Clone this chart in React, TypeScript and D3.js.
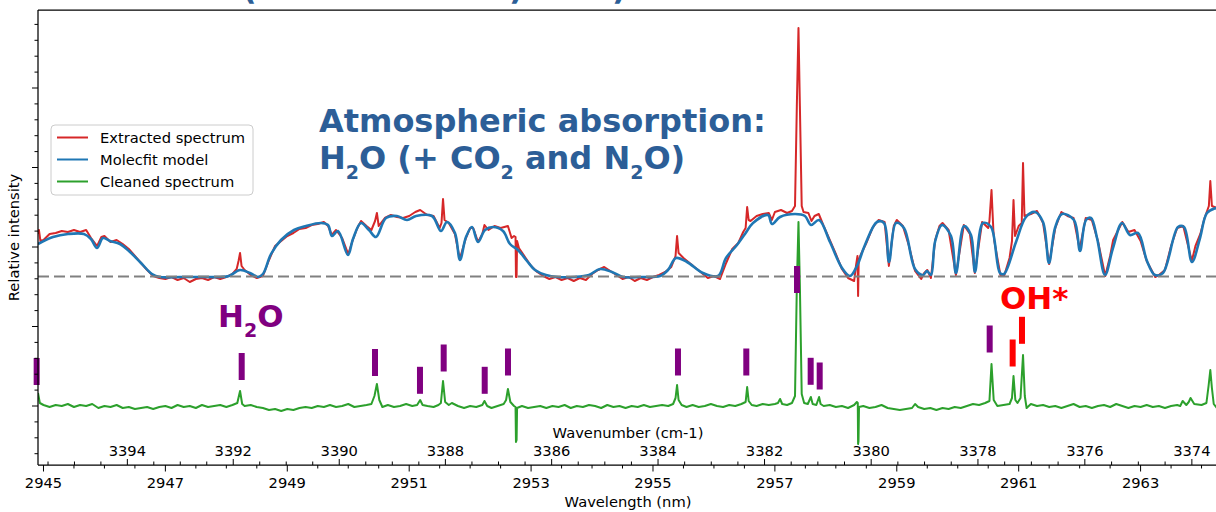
import React, { useEffect } from "react";
import * as d3 from "d3";

// ---------------- data ----------------
// intensity in arbitrary units, wavelength in nm
const modelSpectrum: [number, number][] = [
  [2944.91,162],[2945.156,169],[2945.402,172],[2945.664,172],[2945.779,167],[2945.878,158],[2945.976,168],[2946.091,165],[2946.255,162],[2946.419,154],[2946.6,143],[2946.78,132],[2946.911,129],[2947.24,129],[2947.568,129],[2947.896,129],[2948.044,130],[2948.224,136],[2948.388,133],[2948.519,129],[2948.601,132],[2948.733,152],[2948.897,166],[2949.11,176],[2949.307,180],[2949.553,183],[2949.668,181],[2949.733,170],[2949.832,175],[2949.996,151],[2950.078,167],[2950.209,183],[2950.34,176],[2950.455,169],[2950.619,188],[2950.8,190],[2950.964,186],[2951.112,190],[2951.374,190],[2951.522,175],[2951.62,184],[2951.751,173],[2951.833,146],[2951.932,169],[2952.03,179],[2952.129,164],[2952.244,176],[2952.375,179],[2952.539,175],[2952.654,162],[2952.785,156],[2952.933,145],[2953.064,136],[2953.244,131],[2953.441,129],[2953.72,129],[2953.95,131],[2954.131,137],[2954.327,134],[2954.508,129],[2954.787,129],[2955.115,130],[2955.246,136],[2955.377,148],[2955.558,144],[2955.82,133],[2956.067,130],[2956.198,148],[2956.378,161],[2956.509,172],[2956.641,183],[2956.887,191],[2956.952,182],[2957.084,189],[2957.33,192],[2957.494,190],[2957.592,181],[2957.724,186],[2957.904,164],[2958.101,138],[2958.232,130],[2958.347,140],[2958.478,161],[2958.675,184],[2958.79,183],[2958.872,144],[2958.987,183],[2959.118,178],[2959.299,137],[2959.43,131],[2959.496,135],[2959.561,131],[2959.627,164],[2959.742,181],[2959.889,170],[2959.971,133],[2960.103,180],[2960.217,171],[2960.283,134],[2960.414,183],[2960.546,179],[2960.693,133],[2960.759,132],[2960.956,164],[2961.12,189],[2961.267,194],[2961.399,184],[2961.497,143],[2961.596,178],[2961.71,192],[2961.907,186],[2962.006,155],[2962.104,186],[2962.186,188],[2962.285,168],[2962.416,131],[2962.547,158],[2962.695,183],[2962.826,171],[2962.957,173],[2963.105,145],[2963.236,131],[2963.367,133],[2963.614,179],[2963.712,179],[2963.843,144],[2963.975,168],[2964.089,193],[2964.237,198],[2964.3,199],
];

const extractedSpectrum: [number, number][] = [
  [2944.91,172],[2944.925,176],[2944.95,165],[2945.0,166],[2945.1,172],[2945.2,173],[2945.3,175],[2945.4,174],[2945.5,176],[2945.6,174],[2945.7,176],[2945.78,168],[2945.88,160],[2945.95,169],[2946.0,170],[2946.1,164],[2946.2,166],[2946.3,162],[2946.4,157],[2946.5,150],[2946.6,143],[2946.7,136],[2946.8,130],[2946.9,128],[2947.0,127],[2947.1,129],[2947.2,126],[2947.3,128],[2947.4,124],[2947.5,127],[2947.6,128],[2947.7,126],[2947.8,129],[2947.9,127],[2948.0,129],[2948.1,132],[2948.17,137],[2948.2,145],[2948.225,153],[2948.25,140],[2948.3,136],[2948.4,131],[2948.5,128],[2948.6,130],[2948.7,146],[2948.8,160],[2948.9,165],[2949.0,170],[2949.1,173],[2949.2,177],[2949.3,178],[2949.4,181],[2949.5,182],[2949.6,184],[2949.67,180],[2949.73,171],[2949.8,176],[2949.9,168],[2950.0,152],[2950.08,167],[2950.15,178],[2950.21,185],[2950.3,180],[2950.38,176],[2950.44,185],[2950.47,193],[2950.5,180],[2950.6,188],[2950.7,191],[2950.8,189],[2950.9,188],[2951.0,190],[2951.1,194],[2951.18,196],[2951.25,193],[2951.3,191],[2951.4,190],[2951.5,178],[2951.53,183],[2951.555,207],[2951.58,186],[2951.65,183],[2951.75,172],[2951.83,147],[2951.93,168],[2952.0,178],[2952.05,178],[2952.13,164],[2952.2,172],[2952.235,181],[2952.3,176],[2952.4,180],[2952.5,178],[2952.62,180],[2952.68,168],[2952.72,170],[2952.745,169],[2952.752,129],[2952.762,129],[2952.77,165],[2952.8,158],[2952.9,149],[2953.0,140],[2953.1,134],[2953.2,130],[2953.3,127],[2953.4,129],[2953.5,126],[2953.6,128],[2953.7,125],[2953.8,128],[2953.9,126],[2954.0,132],[2954.1,136],[2954.2,139],[2954.3,135],[2954.4,131],[2954.5,127],[2954.6,129],[2954.7,125],[2954.8,128],[2954.9,126],[2955.0,129],[2955.1,131],[2955.2,134],[2955.3,139],[2955.37,150],[2955.395,170],[2955.42,153],[2955.5,148],[2955.6,143],[2955.7,138],[2955.8,133],[2955.9,128],[2956.0,130],[2956.1,127],[2956.2,143],[2956.3,157],[2956.4,163],[2956.48,174],[2956.52,178],[2956.545,199],[2956.57,186],[2956.6,185],[2956.7,190],[2956.8,192],[2956.9,193],[2956.95,186],[2957.0,194],[2957.1,196],[2957.2,193],[2957.28,195],[2957.33,200],[2957.36,300],[2957.387,378],[2957.41,300],[2957.44,200],[2957.47,194],[2957.55,193],[2957.6,185],[2957.65,190],[2957.72,192],[2957.8,180],[2957.9,166],[2958.0,152],[2958.1,137],[2958.2,128],[2958.3,125],[2958.33,140],[2958.355,150],[2958.365,110],[2958.375,145],[2958.4,150],[2958.5,163],[2958.6,178],[2958.7,186],[2958.8,184],[2958.87,140],[2958.95,180],[2959.0,186],[2959.1,180],[2959.2,160],[2959.3,135],[2959.4,127],[2959.45,133],[2959.5,136],[2959.56,128],[2959.63,166],[2959.7,180],[2959.75,183],[2959.85,176],[2959.97,131],[2960.1,181],[2960.2,172],[2960.28,133],[2960.4,184],[2960.5,178],[2960.52,185],[2960.554,216],[2960.585,175],[2960.6,165],[2960.7,131],[2960.76,130],[2960.85,148],[2960.89,165],[2960.915,206],[2960.94,170],[2961.0,180],[2961.05,183],[2961.071,243],[2961.095,190],[2961.2,192],[2961.3,195],[2961.4,183],[2961.5,142],[2961.6,178],[2961.7,194],[2961.8,190],[2961.9,188],[2962.0,157],[2962.1,188],[2962.2,186],[2962.3,165],[2962.42,130],[2962.5,150],[2962.55,166],[2962.6,172],[2962.7,184],[2962.8,174],[2962.9,176],[2963.0,165],[2963.1,145],[2963.24,129],[2963.3,131],[2963.4,136],[2963.5,160],[2963.6,178],[2963.7,180],[2963.84,145],[2963.9,160],[2963.98,172],[2964.05,188],[2964.12,200],[2964.144,225],[2964.17,200],[2964.25,198],[2964.3,199],
];

const cleanedSpectrum: [number, number][] = [
  [2944.91,13],[2944.94,3],[2945.0,1],[2945.1,-1],[2945.2,1],[2945.3,0],[2945.4,2],[2945.5,-1],[2945.6,1],[2945.7,0],[2945.8,2],[2945.9,-2],[2946.0,0],[2946.1,-1],[2946.2,1],[2946.3,-2],[2946.4,-1],[2946.5,-3],[2946.6,-2],[2946.7,-1],[2946.8,-3],[2946.9,-1],[2947.0,0],[2947.1,-2],[2947.2,1],[2947.3,-1],[2947.4,0],[2947.5,-2],[2947.6,1],[2947.7,-1],[2947.8,0],[2947.9,1],[2948.0,-1],[2948.1,1],[2948.18,3],[2948.225,15],[2948.26,2],[2948.3,0],[2948.4,1],[2948.5,-1],[2948.6,-2],[2948.7,-4],[2948.8,-3],[2948.9,-5],[2949.0,-3],[2949.1,-4],[2949.2,-2],[2949.3,-1],[2949.4,-2],[2949.5,0],[2949.6,-1],[2949.7,1],[2949.8,-1],[2949.9,0],[2950.0,2],[2950.1,-1],[2950.2,0],[2950.3,1],[2950.38,2],[2950.43,10],[2950.47,22],[2950.51,6],[2950.56,-1],[2950.65,1],[2950.75,-1],[2950.85,0],[2950.95,2],[2951.05,0],[2951.13,1],[2951.18,6],[2951.22,1],[2951.3,0],[2951.4,-1],[2951.48,1],[2951.52,3],[2951.555,25],[2951.59,4],[2951.65,1],[2951.7,3],[2951.8,0],[2951.9,-2],[2952.0,0],[2952.1,-1],[2952.2,1],[2952.235,5],[2952.28,0],[2952.35,-2],[2952.45,0],[2952.55,2],[2952.59,6],[2952.62,17],[2952.66,4],[2952.72,0],[2952.745,-1],[2952.752,-36],[2952.762,-34],[2952.77,-2],[2952.85,0],[2952.95,-2],[2953.05,-1],[2953.15,0],[2953.25,-2],[2953.35,0],[2953.45,-1],[2953.55,1],[2953.65,-2],[2953.75,0],[2953.85,-1],[2953.95,1],[2954.05,0],[2954.15,-2],[2954.25,1],[2954.35,-1],[2954.45,0],[2954.55,-2],[2954.65,0],[2954.75,-1],[2954.85,1],[2954.95,-1],[2955.05,0],[2955.15,1],[2955.25,0],[2955.33,2],[2955.37,8],[2955.395,21],[2955.42,6],[2955.47,1],[2955.55,-1],[2955.65,1],[2955.75,-1],[2955.85,0],[2955.95,2],[2956.05,0],[2956.15,-1],[2956.25,1],[2956.35,0],[2956.45,2],[2956.52,4],[2956.545,19],[2956.57,5],[2956.62,1],[2956.7,0],[2956.8,2],[2956.9,1],[2957.0,2],[2957.05,3],[2957.085,7],[2957.12,2],[2957.2,1],[2957.28,3],[2957.33,10],[2957.36,120],[2957.387,184],[2957.41,120],[2957.44,12],[2957.48,3],[2957.54,2],[2957.59,9],[2957.62,2],[2957.68,1],[2957.725,9],[2957.75,2],[2957.8,0],[2957.9,1],[2958.0,-1],[2958.1,0],[2958.2,-2],[2958.3,1],[2958.345,4],[2958.36,3],[2958.365,-38],[2958.372,-35],[2958.38,-1],[2958.45,0],[2958.55,-2],[2958.65,-1],[2958.75,1],[2958.85,-2],[2958.95,-3],[2959.05,-4],[2959.15,-3],[2959.25,-2],[2959.3,2],[2959.35,-1],[2959.45,-3],[2959.55,-2],[2959.65,-4],[2959.75,-2],[2959.85,-3],[2959.95,-1],[2960.05,-2],[2960.15,0],[2960.25,2],[2960.35,1],[2960.45,3],[2960.52,5],[2960.554,42],[2960.59,6],[2960.65,0],[2960.75,1],[2960.85,2],[2960.89,8],[2960.915,30],[2960.945,6],[2960.98,3],[2961.03,8],[2961.071,51],[2961.1,10],[2961.13,-2],[2961.2,2],[2961.3,0],[2961.4,1],[2961.5,-1],[2961.6,0],[2961.7,-2],[2961.8,0],[2961.9,2],[2962.0,-1],[2962.1,0],[2962.2,-2],[2962.3,0],[2962.4,1],[2962.5,-1],[2962.6,2],[2962.7,0],[2962.8,-2],[2962.9,0],[2963.0,-1],[2963.1,1],[2963.2,-1],[2963.3,0],[2963.4,-2],[2963.5,0],[2963.6,1],[2963.65,0],[2963.69,5],[2963.75,1],[2963.79,4],[2963.82,8],[2963.88,2],[2964.0,1],[2964.08,3],[2964.115,20],[2964.144,36],[2964.17,18],[2964.2,2],[2964.25,-2],[2964.3,-3],
];

const continuumLevel = 129.5;

const h2oLineWavelengths = [2944.888, 2948.252, 2950.439, 2951.177, 2951.566, 2952.239, 2952.621, 2955.41, 2956.531, 2957.363, 2957.587, 2957.735, 2960.524];
const h2oLineLevels = [34.5, 39.5, 43.5, 25.7, 48, 25.7, 44, 44, 44, 126.5, 34.7, 30, 67];
const ohLineWavelengths = [2960.901, 2961.054];
const ohLineLevels = [53, 75.7];

const wavelengthTicks = [2945, 2947, 2949, 2951, 2953, 2955, 2957, 2959, 2961, 2963];
const wavenumberTicks = [3374, 3376, 3378, 3380, 3382, 3384, 3386, 3388, 3390, 3392, 3394];
const intensityTicks = [0, 79.5, 159, 238.5, 318];

const legendLabels = ["Extracted spectrum", "Molecfit model", "Cleaned spectrum"];
const seriesColors = ["#d62728", "#1f77b4", "#2ca02c"];

// ---------------- layout ----------------
const W = 1216;
const H = 512;
const PL = 38, PR = 1218, PT = 10, PB = 465;
const FONT = "DejaVu Sans";
const TITLE_BLUE = "#2c5e97";

export default function App() {
  useEffect(() => {
    document.body.style.margin = "0";
  }, []);

  const x = d3.scaleLinear().domain([2944.91, 2964.27]).range([PL, PR]);
  const y = d3.scaleLinear().domain([-59, 396]).range([PB, PT]);
  const xNu = (nu: number) => x(1e7 / nu);

  const lineLin = d3.line<[number, number]>().x(d => x(d[0])).y(d => y(d[1]));
  const lineSmooth = d3
    .line<[number, number]>()
    .x(d => x(d[0]))
    .y(d => y(d[1]))
    .curve(d3.curveCatmullRom.alpha(0.5));

  // minor ticks
  const wlMinor: number[] = [];
  for (let v = 2945; v <= 2964.2; v += 0.5) if (!wavelengthTicks.includes(v)) wlMinor.push(v);
  const wnMinor: number[] = [];
  for (let v = 3373.5; v <= 3395.6; v += 0.5) if (!wavenumberTicks.includes(v)) wnMinor.push(v);
  const yStep = intensityTicks[1] - intensityTicks[0];
  const yMinor: number[] = [];
  for (let k = -3; k <= 24; k++) {
    const v = (k * yStep) / 5;
    if (k % 5 !== 0 && y(v) >= PT && y(v) <= PB) yMinor.push(v);
  }

  const barW = 6;
  const barH = 27;

  return (
    <svg
      width={W}
      height={H}
      style={{ position: "absolute", left: 0, top: 0, background: "#fff" }}
      fontFamily={FONT}
    >
      <defs>
        <clipPath id="plotclip">
          <rect x={PL} y={PT} width={PR - PL} height={PB - PT} />
        </clipPath>
      </defs>

      {/* text line above the figure, only its lowest edge shows */}
      <g fill={TITLE_BLUE} fontWeight="bold" fontSize={32}>
        <text x={242} y={-1}>(</text>
        <text x={509} y={-1}>)</text>
        <text x={612} y={-1}>)</text>
      </g>

      <g clipPath="url(#plotclip)">
        <path d={lineLin(extractedSpectrum) || ""} fill="none" stroke={seriesColors[0]} strokeWidth={2} strokeLinejoin="round" />
        <path d={lineSmooth(modelSpectrum) || ""} fill="none" stroke={seriesColors[1]} strokeWidth={2.6} strokeLinejoin="round" />
        <path d={lineLin(cleanedSpectrum) || ""} fill="none" stroke={seriesColors[2]} strokeWidth={2} strokeLinejoin="round" />
        <line x1={PL} x2={PR} y1={y(continuumLevel)} y2={y(continuumLevel)} stroke="#808080" strokeWidth={2} strokeDasharray="11 5" />
      </g>

      {/* line markers */}
      {h2oLineWavelengths.map((w, i) => (
        <rect key={"h" + i} x={x(w) - barW / 2} y={y(h2oLineLevels[i] + barH / 2)} width={barW} height={y(0) - y(barH)} fill="#800080" />
      ))}
      {ohLineWavelengths.map((w, i) => (
        <rect key={"o" + i} x={x(w) - barW / 2} y={y(ohLineLevels[i] + barH / 2)} width={barW} height={y(0) - y(barH)} fill="#ff0000" />
      ))}

      {/* annotations */}
      <text x={x(2947.863)} y={y(79)} fill="#800080" fontWeight="bold" fontSize={31}>
        H<tspan fontSize={19} dy={10}>2</tspan>
        <tspan dy={-10}>O</tspan>
      </text>
      <text x={x(2960.693)} y={y(97)} fill="#ff0000" fontWeight="bold" fontSize={31}>OH*</text>
      <text x={x(2949.52)} y={y(274)} fill={TITLE_BLUE} fontWeight="bold" fontSize={32}>Atmospheric absorption:</text>
      <text x={x(2949.52)} y={y(237)} fill={TITLE_BLUE} fontWeight="bold" fontSize={32}>
        H<tspan fontSize={19} dy={10}>2</tspan>
        <tspan dy={-10}>{"O (+ CO"}</tspan>
        <tspan fontSize={19} dy={10}>2</tspan>
        <tspan dy={-10}>{" and N"}</tspan>
        <tspan fontSize={19} dy={10}>2</tspan>
        <tspan dy={-10}>{"O)"}</tspan>
      </text>

      {/* legend */}
      <g>
        <rect x={51} y={125} width={202} height={70} rx={4} fill="#fff" fillOpacity={0.8} stroke="#cccccc" strokeWidth={1} />
        {legendLabels.map((lab, i) => (
          <g key={lab}>
            <line x1={57} x2={88} y1={137.5 + i * 22} y2={137.5 + i * 22} stroke={seriesColors[i]} strokeWidth={2} />
            <text x={100} y={142.5 + i * 22} fontSize={14.7} fill="#000">{lab}</text>
          </g>
        ))}
      </g>

      {/* spines */}
      <g stroke="#000" strokeWidth={1.25} fill="none">
        <line x1={PL} x2={PL} y1={PT} y2={PB} />
        <line x1={PL} x2={PR} y1={PT} y2={PT} />
        <line x1={PL} x2={PR} y1={PB} y2={PB} />
      </g>

      {/* y ticks */}
      <g stroke="#000" strokeWidth={1}>
        {intensityTicks.map(v => (
          <line key={"ym" + v} x1={PL - 6} x2={PL} y1={y(v)} y2={y(v)} />
        ))}
        {yMinor.map(v => (
          <line key={"yn" + v} x1={PL - 3.5} x2={PL} y1={y(v)} y2={y(v)} />
        ))}
      </g>

      {/* wavelength axis (bottom, outward) */}
      <g>
        {wavelengthTicks.map(v => (
          <g key={"wl" + v}>
            <line x1={x(v)} x2={x(v)} y1={PB} y2={PB + 6.5} stroke="#000" strokeWidth={1} />
            <text x={x(v)} y={488} fontSize={14.7} textAnchor="middle" fill="#000">{v}</text>
          </g>
        ))}
        {wlMinor.map(v => (
          <line key={"wln" + v} x1={x(v)} x2={x(v)} y1={PB} y2={PB + 3.5} stroke="#000" strokeWidth={1} />
        ))}
        <text x={(PL + PR) / 2} y={507} fontSize={14.7} textAnchor="middle" fill="#000">Wavelength (nm)</text>
      </g>

      {/* wavenumber axis (inside, upward) */}
      <g>
        {wavenumberTicks.map(v => (
          <g key={"wn" + v}>
            <line x1={xNu(v)} x2={xNu(v)} y1={PB} y2={PB - 6} stroke="#000" strokeWidth={1} />
            <text x={xNu(v)} y={456} fontSize={14.7} textAnchor="middle" fill="#000">{v}</text>
          </g>
        ))}
        {wnMinor.map(v => (
          <line key={"wnn" + v} x1={xNu(v)} x2={xNu(v)} y1={PB} y2={PB - 3.5} stroke="#000" strokeWidth={1} />
        ))}
        <text x={(PL + PR) / 2} y={438} fontSize={14.7} textAnchor="middle" fill="#000">Wavenumber (cm-1)</text>
      </g>

      <text
        transform={`translate(19, ${(PT + PB) / 2}) rotate(-90)`}
        fontSize={14.7}
        textAnchor="middle"
        fill="#000"
      >
        Relative intensity
      </text>
    </svg>
  );
}
